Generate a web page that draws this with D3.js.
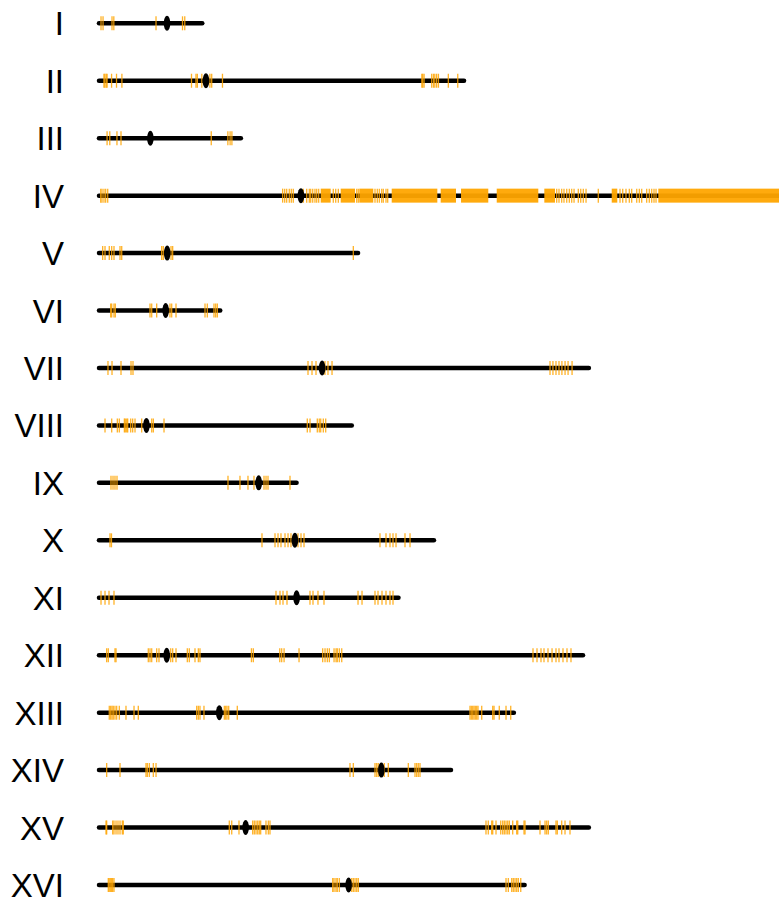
<!DOCTYPE html>
<html>
<head>
<meta charset="utf-8">
<script src="https://cdn.jsdelivr.net/npm/d3@7/dist/d3.min.js"></script>
<style>
html,body{margin:0;padding:0;background:#fff;}
svg{display:block;}
</style>
</head>
<body>
<svg id="chart" width="779" height="903"></svg>
<script>
const chromNames = ["I","II","III","IV","V","VI","VII","VIII","IX","X","XI","XII","XIII","XIV","XV","XVI"];
const chromLengthsKb = [230,813,316,1532,577,270,1091,563,440,746,667,1078,924,784,1091,948];
const centromeresKb = [151.5,238.2,114.4,449.7,151.9,148.5,496.9,105.6,355.7,436.3,440.1,150.8,268.0,628.8,326.6,556.0];

const siteMarksKb = [
  [4.5,9,29,33,127,186,191],
  [11,13,16,18,28,39,51,206,216,219,229,247,251,275,719,721,724,741,745,748,752,756,778,799],
  [18,24,40,49,250,287,292,296],
  [3.8,6.7,11.1,14.9,19.4,409,413.6,418,423.8,428.3,432.7,455,462.6,468.4,471.5,476,481,484.9,489.3,521.8,527.2,533,574,577.5,614.7,619.8,624.3,629.6,633.2,639.2,643,1019.4,1024.5,1030.5,1035.6,1041.7,1047.5,1052.8,1058,1067.5,1072.9,1078.6,1084.7,1112,1160.4,1166.4,1173.7,1181.1,1186.4,1197.6,1203.4,1208.7,1219.8,1225.6,1231,1236.1,1240.6],
  [8.2,13.4,22.9,28.3,33.4,46.8,50.6,139.6,143.2,160.4,164.1,566.4],
  [26,28.3,33.4,36.3,113.6,117.4,128.5,158.1,161.9,171.5,236.1,241.2,256.1,259.9,263.5],
  [20,29,49,71.3,75.7,465.5,474.4,483.3,503.3,510,519,1004.5,1011,1017.8,1024.5,1031,1038,1044.7,1053.6],
  [13.4,28.3,40.8,45.2,56.5,58.6,61.7,63.9,70.6,75,80.2,95.1,117.4,121,144.8,463.9,470,486.2,490.6,493.8,499.6,504.9],
  [26.7,31.2,35.6,40.1,287.3,314,331.8,345.2,367.5,372,376.4,425.4],
  [24.5,27.8,363,392,398.7,405.3,414.3,421,427.6,443.2,449.9,456.6,625.8,639.2,648.1,654.8,661.5,681.5,692.7],
  [4.5,13.4,22.3,33.4,394.2,403.1,409.8,418.7,469.9,476.6,487.7,501.1,576.9,585.8,614.7,621.4,630.3,639.2,648.1,654.8],
  [17.1,20.7,35.6,37.9,109.8,113.6,117.4,128.5,133.6,159.7,164.1,171.5,196.7,201.1,213.8,221.2,224.9,339.5,343.7,402.6,406.9,412.2,445.5,498.2,503.4,508.5,513,523.5,528,530.7,535.2,540.6,966.6,975.5,984.4,991.1,1000,1009,1017.8,1024.5,1033.4,1042.3,1051.2],
  [22.9,26,29,31.8,35.6,39.4,45.2,60.1,78,87.5,217.6,221.2,224.9,233.8,279.1,282.2,285.1,288.9,308,826.3,829.2,832.3,835.2,838.1,841.2,844.1,852.4,876.9,879.8,891.5,906.5,917],
  [17.1,46.8,104.7,107.6,112.1,121,127,559,566.4,614.7,618.5,622,635.4,644.3,688.9,703.8,707.5,711.1,714.9],
  [15.6,17.1,30.5,33.4,37.9,42.3,46.8,51.9,54.1,290.2,295.6,311.8,342.3,345.9,349.7,353.5,357,360.1,371.9,377.1,380.8,861.9,867,874.6,876.9,884.2,894.7,899.1,902.7,906.5,910.3,913.9,921.4,930.3,932.6,946.6,948.8,982.2,993.4,997.1,1000.7,1017.8,1020.7,1030.5,1037.9,1049],
  [20.7,22.9,26,28.3,30.5,33.4,520.5,523.4,527.8,530.7,535.2,562.8,566.4,570.2,574,577.5,906.5,911.6,919.2,922.7,926.5,930.3,933.9,939.3]
];

const denseRegionChrom = ["IV","IV","IV","IV","IV","IV","IV","IV","IV","IV"];
const denseRegionStartKb = [493.8,538.3,579.7,651.9,761,806.3,885.8,991.8,1141.9,1245.7];
const denseRegionEndKb   = [516,570.2,610.9,753.5,795.1,867,978.4,1015.6,1154.3,1532];

const svg = d3.select("#chart");
const x = d3.scaleLinear().domain([0, 1532]).range([99, 99 + 1532 * 0.449]);
const y = d3.scalePoint().domain(chromNames).range([23.3, 885]);

const chroms = chromNames.map((n, i) => ({name: n, len: chromLengthsKb[i], cen: centromeresKb[i], marks: siteMarksKb[i]}));
const dense = denseRegionChrom.map((c, i) => ({chrom: c, start: denseRegionStartKb[i], end: denseRegionEndKb[i]}));

const orange = "#FFA500";

svg.append("g").selectAll("text").data(chroms).join("text")
  .attr("x", 64).attr("y", d => y(d.name) + 12)
  .attr("text-anchor", "end")
  .attr("font-family", "Liberation Sans, Arial, sans-serif")
  .attr("font-size", 33)
  .attr("fill", "#000")
  .text(d => d.name);

svg.append("g").selectAll("line").data(chroms).join("line")
  .attr("x1", x(0)).attr("x2", d => x(d.len))
  .attr("y1", d => y(d.name)).attr("y2", d => y(d.name))
  .attr("stroke", "#000").attr("stroke-width", 4.5).attr("stroke-linecap", "round");

svg.append("g").selectAll("rect").data(dense).join("rect")
  .attr("x", d => x(d.start)).attr("width", d => x(d.end) - x(d.start))
  .attr("y", d => y(d.chrom) - 7).attr("height", 14)
  .attr("fill", orange).attr("fill-opacity", 0.95);

const markData = chroms.flatMap(c => c.marks.map(m => ({name: c.name, pos: m})));
svg.append("g").selectAll("line").data(markData).join("line")
  .attr("x1", d => x(d.pos)).attr("x2", d => x(d.pos))
  .attr("y1", d => y(d.name) - 7).attr("y2", d => y(d.name) + 7)
  .attr("stroke", orange).attr("stroke-width", 1.3).attr("stroke-opacity", 0.85);

svg.append("g").selectAll("ellipse").data(chroms).join("ellipse")
  .attr("cx", d => x(d.cen)).attr("cy", d => y(d.name))
  .attr("rx", 3.3).attr("ry", 7.5).attr("fill", "#000");
</script>
</body>
</html>
